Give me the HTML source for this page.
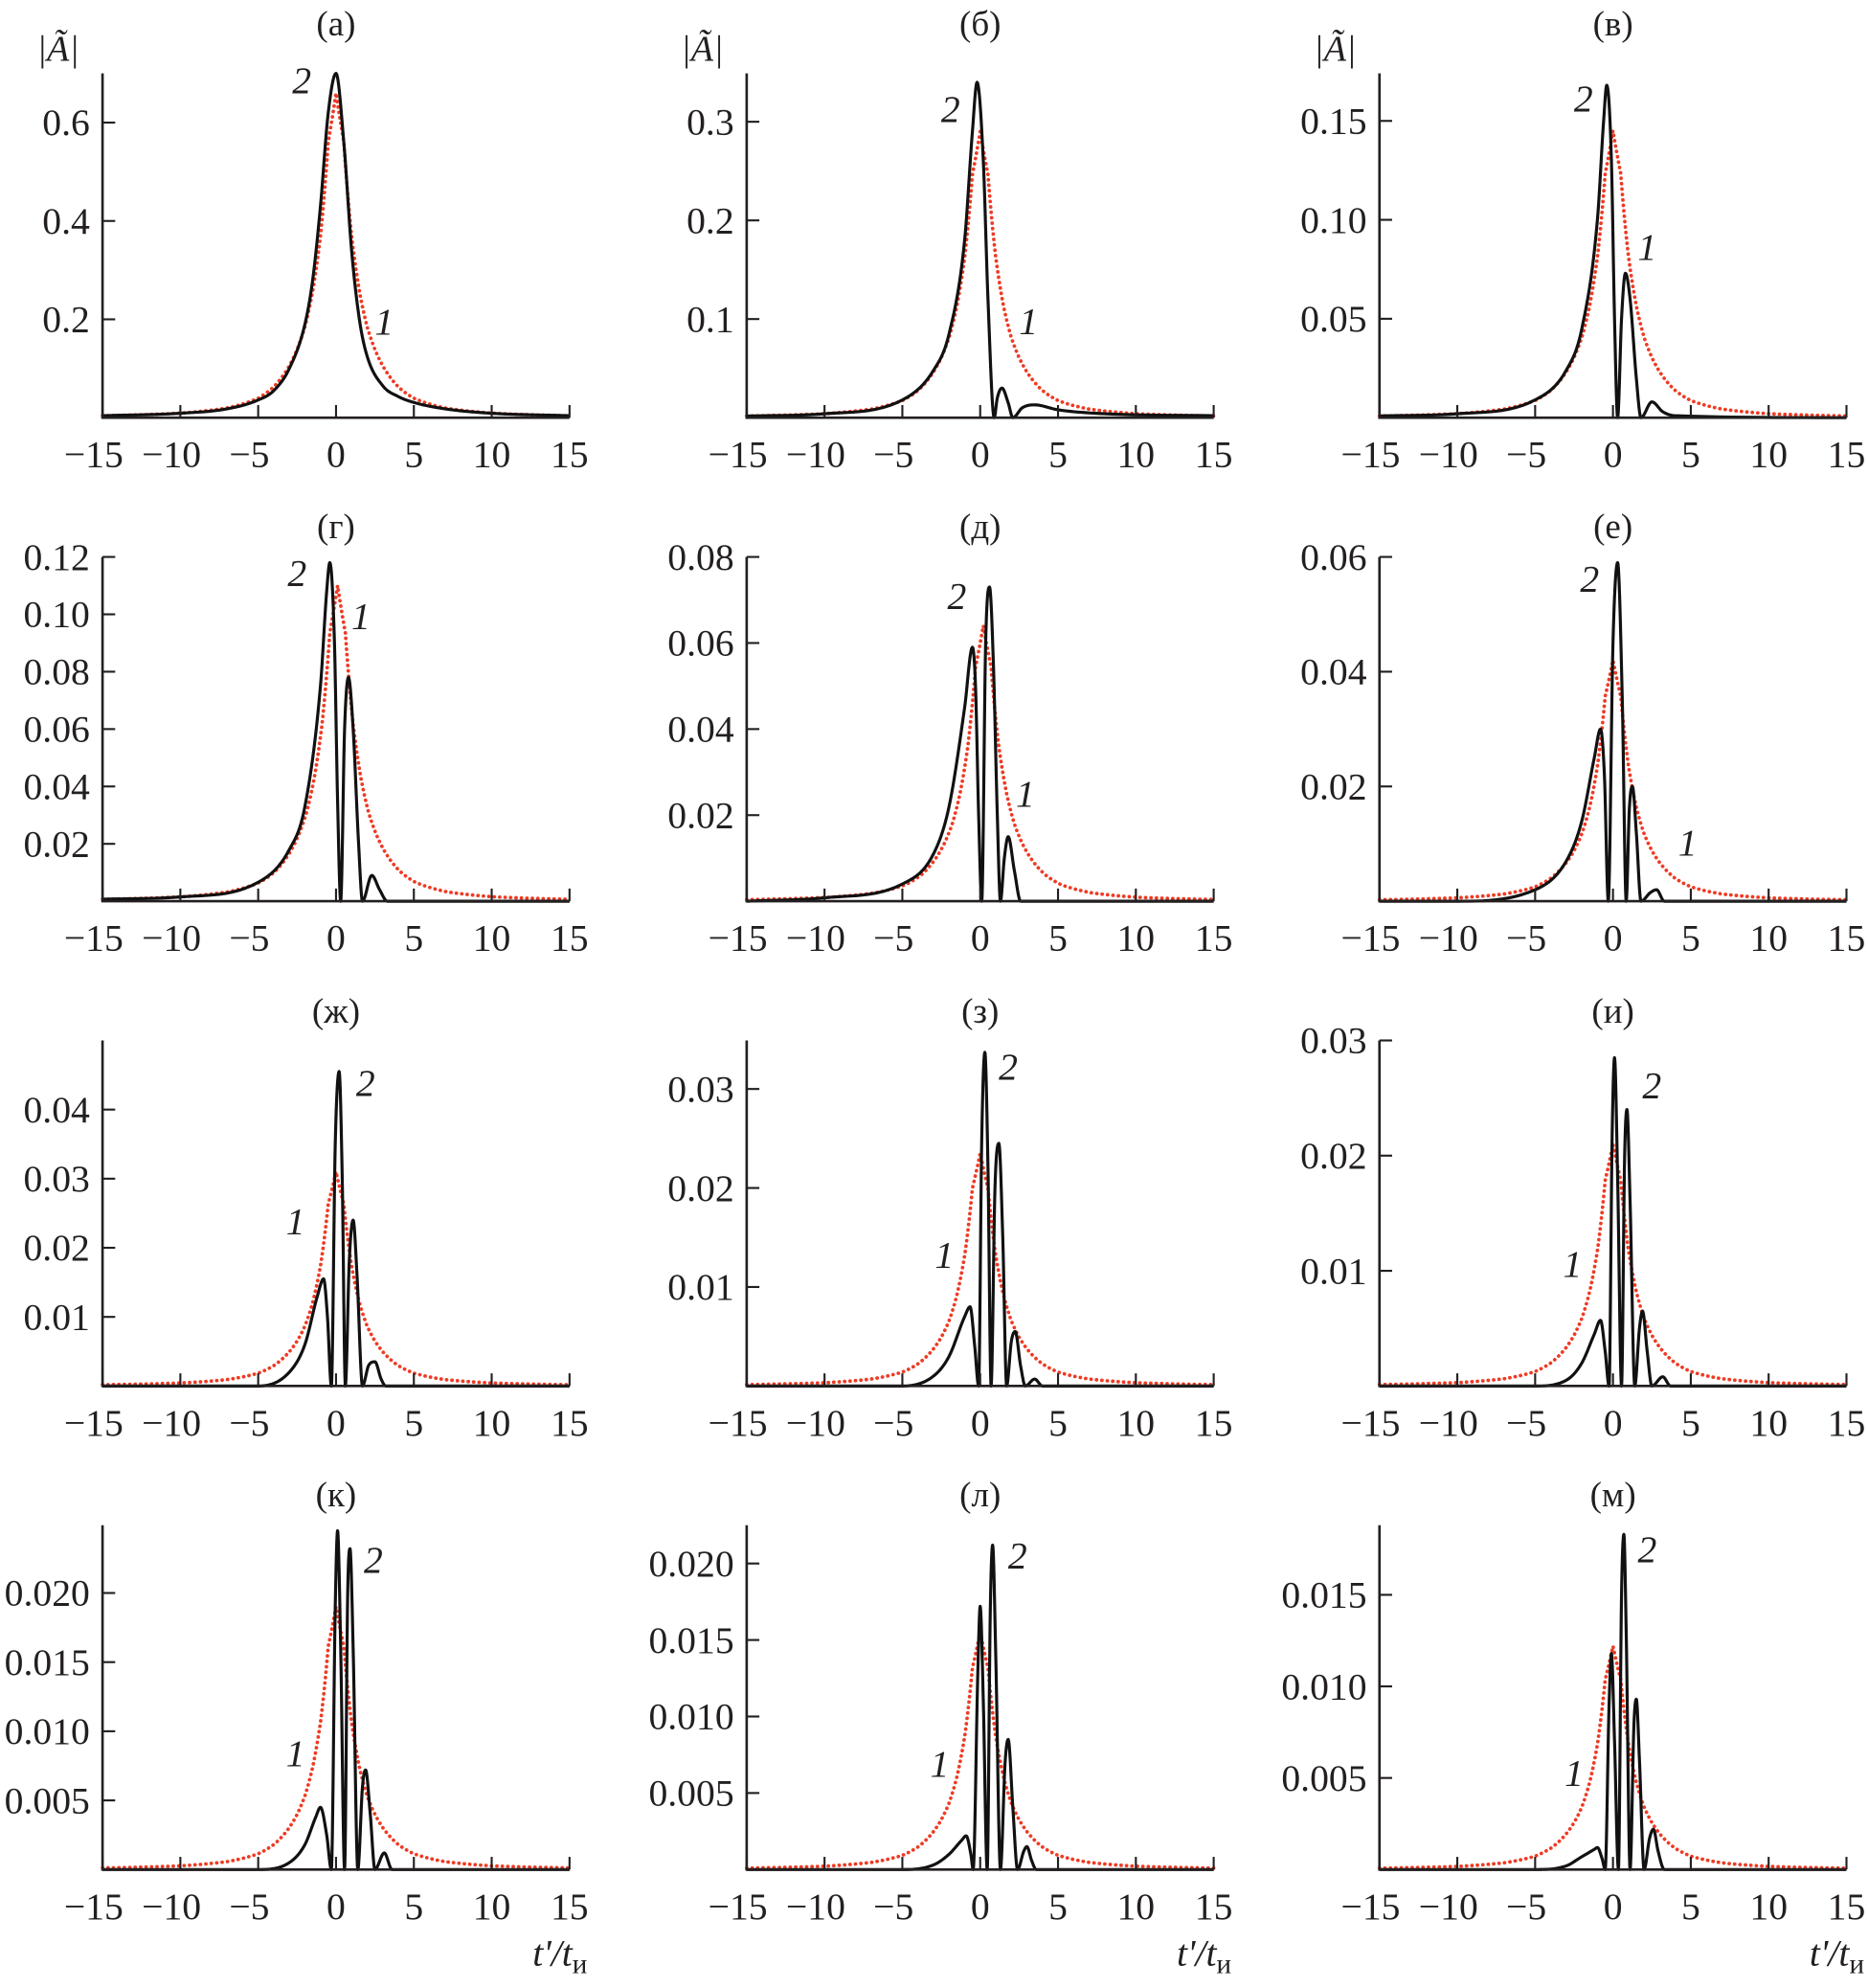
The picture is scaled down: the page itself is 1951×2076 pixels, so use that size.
<!DOCTYPE html>
<html><head><meta charset="utf-8"><style>
html,body{margin:0;padding:0;background:#fff;}
svg{display:block;}
text{font-family:"Liberation Serif",serif;fill:#231f20;}
</style></head><body>
<svg id="fig" width="1951" height="2076" viewBox="0 0 1476 1570.6" xmlns="http://www.w3.org/2000/svg"></svg>
<script>
// ---- data ----
const panelTitles = ["(а)","(б)","(в)","(г)","(д)","(е)","(ж)","(з)","(и)","(к)","(л)","(м)"];
const yMaxValues = [0.7,0.349,0.174,0.12,0.08,0.06,0.05,0.0349,0.03,0.0249,0.0225,0.0188];
const yTickValues = [
 [0.2,0.4,0.6],[0.1,0.2,0.3],[0.05,0.10,0.15],
 [0.02,0.04,0.06,0.08,0.10,0.12],[0.02,0.04,0.06,0.08],[0.02,0.04,0.06],
 [0.01,0.02,0.03,0.04],[0.01,0.02,0.03],[0.01,0.02,0.03],
 [0.005,0.010,0.015,0.020],[0.005,0.010,0.015,0.020],[0.005,0.010,0.015]];
const yTickLabels = [
 ["0.2","0.4","0.6"],["0.1","0.2","0.3"],["0.05","0.10","0.15"],
 ["0.02","0.04","0.06","0.08","0.10","0.12"],["0.02","0.04","0.06","0.08"],["0.02","0.04","0.06"],
 ["0.01","0.02","0.03","0.04"],["0.01","0.02","0.03"],["0.01","0.02","0.03"],
 ["0.005","0.010","0.015","0.020"],["0.005","0.010","0.015","0.020"],["0.005","0.010","0.015"]];
const xTickValues = [-15,-10,-5,0,5,10,15];
const xTickLabels = ["\u221215","\u221210","\u22125","0","5","10","15"];
const redPeaks = [0.66,0.29,0.145,0.11,0.064,0.042,0.031,0.0235,0.021,0.019,0.0155,0.0122];
const redCenters = [0,0,0,0.1,0.2,0,0,0,0,0,0,0];
const redShapeT = [0,0.5,1,1.5,2,2.5,3,4,5,7,10,15,20];
const redShapeV = [1,0.85,0.56,0.39,0.28,0.21,0.16,0.095,0.06,0.03,0.014,0.006,0.003];
const blackA = [[-15,.004],[-10,.009],[-7,.018],[-5,.036],[-4,.055],[-3,.1],[-2,.19],[-1.5,.28],[-1,.43],[-.5,.62],[0,.7],[.5,.56],[1,.34],[1.5,.2],[2,.125],[3,.065],[4,.043],[5,.031],[7,.018],[10,.009],[15,.004]];
const blackB = [[-15,.0017],[-10,.004],[-5,.018],[-3,.048],[-2,.085],[-1,.18],[-.5,.29],[-.2,.34],[.2,.26],[.5,.12],[.9,0],[1.1,.02],[1.4,.03],[1.8,.015],[2.1,0],[2.7,.01],[3.5,.013],[5,.008],[8,.004],[15,.002]];
const blackC = [[-15,.0009],[-10,.002],[-5,.009],[-3,.024],[-2,.045],[-1,.1],[-.6,.15],[-.4,.168],[-.1,.13],[.1,.05],[.3,0],[.55,.05],[.8,.073],[1.1,.06],[1.5,.02],[1.8,0],[2.5,.008],[3.2,.003],[4,.001],[15,0]];
const blackD = [[-15,.0007],[-10,.0015],[-5,.0066],[-3,.018],[-2,.033],[-1,.075],[-.6,.108],[-.4,.118],[-.1,.09],[.1,.035],[.3,0],[.55,.06],[.8,.078],[1.1,.06],[1.45,.02],[1.7,0],[2.3,.009],[2.8,.004],[3.3,0],[15,0]];
const blackE = [[-15,0],[-10,.0008],[-5,.004],[-3,.011],[-2,.022],[-1,.045],[-.5,.059],[-.3,.05],[-.1,.02],[.1,0],[.35,.06],[.6,.073],[.85,.055],[1.1,.02],[1.3,0],[1.55,.01],[1.8,.015],[2.2,.007],[2.6,0],[15,0]];
const blackF = [[-15,0],[-10,0],[-5,.002],[-3,.007],[-2,.014],[-1.2,.025],[-.8,.03],[-.55,.022],[-.3,0],[0,.045],[.3,.059],[.6,.035],[.85,0],[1.05,.016],[1.25,.02],[1.5,.012],[1.8,0],[2.4,.0015],[2.8,.002],[3.3,0],[15,0]];
const blackG = [[-15,0],[-5,0],[-3,.002],[-2,.006],[-1.2,.013],[-.8,.0155],[-.55,.01],[-.3,0],[-.05,.035],[.2,.0455],[.4,.03],[.6,0],[.85,.018],[1.1,.024],[1.35,.016],[1.7,0],[2.1,.003],[2.5,.0035],[2.9,.001],[3.2,0],[15,0]];
const blackH = [[-15,0],[-5,0],[-3,.001],[-2,.003],[-1,.007],[-.65,.008],[-.35,.004],[-.1,0],[.1,.025],[.3,.0337],[.5,.022],[.7,0],[.95,.02],[1.2,.0245],[1.45,.015],[1.7,0],[2.0,.0045],[2.25,.0055],[2.6,.002],[2.9,0],[3.5,.0007],[4,0],[15,0]];
const blackI = [[-15,0],[-5,0],[-3,.0005],[-2,.002],[-1.2,.0045],[-.8,.0057],[-.5,.003],[-.25,0],[-.05,.022],[.1,.0285],[.3,.018],[.55,0],[.75,.02],[.9,.024],[1.1,.016],[1.4,0],[1.7,.005],[1.9,.0065],[2.2,.003],[2.5,0],[3.2,.0008],[3.7,0],[15,0]];
const blackK = [[-15,0],[-5,0],[-3,.0005],[-2,.0018],[-1.3,.0038],[-1,.0045],[-.6,.0025],[-.3,0],[-.05,.019],[.1,.0245],[.3,.016],[.55,0],[.75,.02],[.9,.0232],[1.1,.016],[1.4,0],[1.7,.006],[1.9,.0072],[2.2,.004],[2.5,0],[3.1,.0012],[3.6,0],[15,0]];
const blackL = [[-15,0],[-5,0],[-3,.0003],[-2,.001],[-1.2,.0019],[-.9,.0022],[-.6,.001],[-.45,0],[-.15,.013],[0,.0172],[.2,.011],[.45,0],[.65,.017],[.8,.0212],[1.0,.014],[1.3,0],[1.6,.007],[1.8,.0085],[2.1,.004],[2.4,0],[2.8,.0012],[3.0,.0015],[3.3,.0006],[3.6,0],[15,0]];
const blackM = [[-15,0],[-5,0],[-3,.0002],[-2,.0007],[-1.2,.0011],[-1,.0012],[-.7,.0006],[-.5,0],[-.25,.009],[-.1,.0118],[.1,.007],[.35,0],[.55,.015],[.7,.0183],[.85,.013],[1.1,0],[1.35,.008],[1.5,.0093],[1.7,.006],[2.0,0],[2.35,.0017],[2.6,.0022],[2.9,.001],[3.3,0],[15,0]];
const blackSeries = [blackA,blackB,blackC,blackD,blackE,blackF,blackG,blackH,blackI,blackK,blackL,blackM];
const label2Pos = [[-2.2,.66],[-1.9,.3],[-1.9,.155],[-2.5,.11],[-1.5,.068],[-1.5,.054],[1.9,.042],[1.8,.031],[2.5,.025],[2.4,.0215],[2.4,.0197],[2.2,.0168]];
const label1Pos = [[3.1,.17],[3.1,.085],[2.2,.08],[1.6,.095],[2.9,.022],[4.8,.008],[-2.6,.022],[-2.3,.012],[-2.6,.0095],[-2.6,.0075],[-2.6,.0061],[-2.5,.0046]];

const colX = [81,590,1090], axisW = 369;
const rowBase = [330,712,1095,1477], rowTop = [58,440,822,1205];
const titleY = [28,425,808,1190];
const NS = "http://www.w3.org/2000/svg";
const svg = document.getElementById('fig');
function mk(tag, attrs, parent){const e=document.createElementNS(NS,tag);for(const k in attrs)e.setAttribute(k,attrs[k]);(parent||svg).appendChild(e);return e;}

function interpShape(x){
  x=Math.abs(x);
  for(let i=0;i<redShapeT.length-1;i++){
    if(x<=redShapeT[i+1]){const f=(x-redShapeT[i])/(redShapeT[i+1]-redShapeT[i]);
      return Math.exp(Math.log(redShapeV[i])*(1-f)+Math.log(redShapeV[i+1])*f);}
  }
  return redShapeV[redShapeV.length-1];
}
function monotone(pts, n){
  const xs=pts.map(p=>p[0]), ys=pts.map(p=>p[1]), m=pts.length;
  const d=[], s=[];
  for(let i=0;i<m-1;i++) d.push((ys[i+1]-ys[i])/(xs[i+1]-xs[i]));
  s[0]=d[0]; s[m-1]=d[m-2];
  for(let i=1;i<m-1;i++){ s[i]=(d[i-1]*d[i]<=0)?0:(d[i-1]+d[i])/2; }
  for(let i=0;i<m-1;i++){ if(d[i]===0){s[i]=0;s[i+1]=0;continue;}
    const a=s[i]/d[i], b=s[i+1]/d[i], h=a*a+b*b; if(h>9){const t=3/Math.sqrt(h); s[i]=t*a*d[i]; s[i+1]=t*b*d[i];} }
  const out=[];
  for(let i=0;i<m-1;i++){
    const h=xs[i+1]-xs[i];
    for(let k=0;k<n;k++){const t=k/n, t2=t*t, t3=t2*t;
      const y=(2*t3-3*t2+1)*ys[i]+(t3-2*t2+t)*h*s[i]+(-2*t3+3*t2)*ys[i+1]+(t3-t2)*h*s[i+1];
      out.push([xs[i]+t*h, Math.max(0,y)]);}
  }
  out.push([xs[m-1],ys[m-1]]);
  return out;
}

for(let p=0;p<12;p++){
  const c=p%3, r=Math.floor(p/3);
  const x0=colX[c], base=rowBase[r], top=rowTop[r];
  const xs=t=>x0+(t+15)/30*axisW;
  const ys=v=>base-v/yMaxValues[p]*(base-top);
  const g=mk('g',{});
  
  

  const title=mk('text',{x:xs(0),y:titleY[r],'font-size':28,'text-anchor':'middle'},g);
  title.textContent=panelTitles[p];
  
  

  let d='';
  for(let t=-15;t<=15.0001;t+=0.05){const v=redPeaks[p]*interpShape(t-redCenters[p]);d+=(d?'L':'M')+xs(t).toFixed(2)+','+ys(v).toFixed(2);}
  const red=mk('path',{d:d,fill:'none',stroke:'#ee3b24','stroke-width':2.8,'stroke-dasharray':'0.1 4.2','stroke-linecap':'round'},g);
  
  

  const pts=monotone(blackSeries[p],12);
  let d2='';pts.forEach(q=>{d2+=(d2?'L':'M')+xs(q[0]).toFixed(2)+','+ys(q[1]).toFixed(2);});
  const blk=mk('path',{d:d2,fill:'none',stroke:'#111','stroke-width':2.4,'stroke-linejoin':'round'},g);
  
  

  const ax=mk('path',{d:`M${x0},${top}V${base}H${x0+axisW}`,fill:'none',stroke:'#231f20','stroke-width':2},g);
  
  
  xTickValues.forEach((t,i)=>{
    const tk=mk('line',{x1:xs(t),x2:xs(t),y1:base,y2:base-10,stroke:'#231f20','stroke-width':1.6},g);
    
    
    const lb=mk('text',{x:xs(t)-(t<0?7:0),y:base+39,'font-size':30,'text-anchor':'middle'},g);
    lb.textContent=xTickLabels[i];
    
    
  });
  yTickValues[p].forEach((v,i)=>{
    const tk=mk('line',{x1:x0,x2:x0+10,y1:ys(v),y2:ys(v),stroke:'#231f20','stroke-width':1.6},g);
    
    
    const lb=mk('text',{x:x0-10,y:ys(v)+10,'font-size':30,'text-anchor':'end'},g);
    lb.textContent=yTickLabels[p][i];
    
    
  });
  const l2=mk('text',{x:xs(label2Pos[p][0]),y:ys(label2Pos[p][1]),'font-size':30,'font-style':'italic','text-anchor':'middle'},g);
  l2.textContent='2';
  
  
  const l1=mk('text',{x:xs(label1Pos[p][0]),y:ys(label1Pos[p][1]),'font-size':30,'font-style':'italic','text-anchor':'middle'},g);
  l1.textContent='1';
  
  

  if(r===0){
    const yl=mk('text',{x:x0-52,y:48,'font-size':29,'font-style':'italic'},g);
    yl.textContent='|Ã|';
    
    
  }
  if(r===3){
    const xl=mk('text',{x:x0+axisW+14,y:1553,'font-size':30,'text-anchor':'end'},g);
    
    
    const t1=mk('tspan',{'font-style':'italic'},xl); t1.textContent="t'/t";
    const t2=mk('tspan',{'font-size':22,dy:6},xl); t2.textContent="и";
  }
}
</script>
</body></html>
